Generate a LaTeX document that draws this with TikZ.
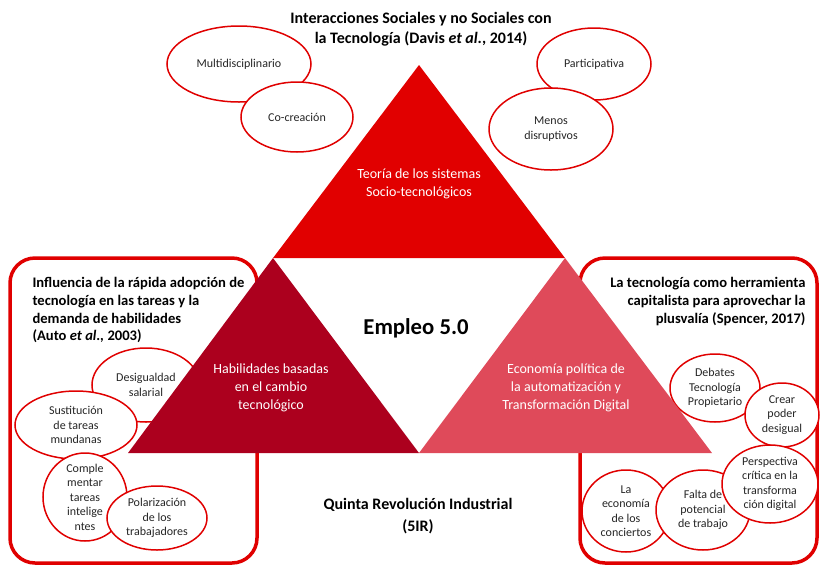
\documentclass[tikz,border=0pt]{standalone}
\usepackage{fontspec}
\setmainfont{Carlito}
\usetikzlibrary{shapes.geometric}
\definecolor{srline}{HTML}{E00000}
\definecolor{srtop}{HTML}{E10000}
\definecolor{srleft}{HTML}{AC001E}
\definecolor{srright}{HTML}{DF4A5A}
\definecolor{srtext}{HTML}{262626}

\begin{document}
\begin{tikzpicture}[x=1pt, y=-1pt, every node/.style={font=\fontsize{12}{14.5}\selectfont, text=srtext},
    idea/.style={ellipse, draw=srline, fill=white, line width=1.5pt, inner sep=0pt},
    tag/.style={align=center, font=\fontsize{12}{14.5}\selectfont, text=srtext},
    inside/.style={align=center, text=white, font=\fontsize{14}{18}\selectfont},
    heading/.style={font=\bfseries\fontsize{14.6}{17.7}\selectfont, text=black}]
            \useasboundingbox (0,0) rectangle (820,566);

            % Side frames
            \draw[srline, line width=3.5pt, rounded corners=25pt] (10,258) rectangle (257,563);
            \draw[srline, line width=3.5pt, rounded corners=25pt] (580,258) rectangle (817,563);

            % Top ideas
            \node[idea, minimum width=144pt, minimum height=76pt, label={[tag]center:Multidisciplinario}] (multi) at (239,64) {};
            \node[idea, minimum width=112pt, minimum height=70pt, label={[tag]center:Co-creación}] (cocrea) at (297,117) {};
            \node[idea, minimum width=114pt, minimum height=72pt, label={[tag]center:Participativa}] (partic) at (594,64) {};
            \node[idea, minimum width=124pt, minimum height=82pt, label={[tag]center:{Menos\\disruptivos}}] (menos) at (551,129) {};

            % Left ideas
            \node[idea, minimum width=108pt, minimum height=74pt, label={[tag]center:{Desigualdad\\salarial}}] (desig) at (146,385) {};
            \node[idea, minimum width=122pt, minimum height=68pt, label={[tag]center:{Sustitución\\de tareas\\mundanas}}] (sustit) at (76,425) {};
            \node[idea, minimum width=84pt, minimum height=88pt, label={[tag]center:{Comple\\mentar\\tareas\\intelige\\ntes}}] (comple) at (85,497) {};
            \node[idea, minimum width=100pt, minimum height=64pt, label={[tag]center:{Polarización\\de los\\trabajadores}}] (polar) at (157,518) {};

            % Right ideas
            \node[idea, minimum width=90pt, minimum height=68pt, label={[tag]center:{Debates\\Tecnología\\Propietario}}] (debates) at (715,388) {};
            \node[idea, minimum width=74pt, minimum height=64pt, label={[tag]center:{Crear\\poder\\desigual}}] (crear) at (782,415) {};
            \node[idea, minimum width=88pt, minimum height=82pt, label={[tag]center:{La\\economía\\de los\\conciertos}}] (concierto) at (626,511) {};
            \node[idea, minimum width=94pt, minimum height=80pt, label={[tag]center:{Falta de\\potencial\\de trabajo}}] (falta) at (703,510) {};
            \node[idea, minimum width=96pt, minimum height=78pt, label={[tag]center:{Perspectiva\\crítica en la\\transforma\\ción digital}}] (perspec) at (770,484) {};

            % Triangles
            \coordinate (apex) at (419,65);
            \coordinate (tl) at (273,258);
            \coordinate (tr) at (565,258);
            \coordinate (bl) at (128,453);
            \coordinate (bm) at (419,453);
            \coordinate (br) at (712,453);
            \fill[srtop] (apex) -- (tr) -- (tl) -- cycle;
            \fill[srleft] (tl) -- (bm) -- (bl) -- cycle;
            \fill[srright] (tr) -- (br) -- (bm) -- cycle;

            \node[inside] (teoria) at (419,184) {Teoría de los sistemas\\Socio-tecnológicos};
            \node[inside] (habil) at (271,388) {Habilidades basadas\\en el cambio\\tecnológico};
            \node[inside] (econ) at (566,388) {Economía política de\\la automatización y\\Transformación Digital};

            % Titles
            \node[font=\bfseries\fontsize{22.7}{26}\selectfont, text=black] (empleo) at (416,328) {Empleo 5.0};
            \node[font=\bfseries\fontsize{16}{22}\selectfont, text=black, align=center] (quinta) at (418,516) {Quinta Revolución Industrial\\(5IR)};
            \node[font=\bfseries\fontsize{16}{20}\selectfont, text=black, align=center] (davis) at (421,29) {Interacciones Sociales y no Sociales con\\la Tecnología (Davis \textit{et al.}, 2014)};
            \node[heading, align=left, anchor=north west] (auto) at (29,274) {Influencia de la rápida adopción de\\tecnología en las tareas y la\\demanda de habilidades\\(Auto \textit{et al.,} 2003)};
            \node[heading, align=right, anchor=north east] (spencer) at (809,274) {La tecnología como herramienta\\capitalista para aprovechar la\\plusvalía (Spencer, 2017)};
        \end{tikzpicture}
\end{document}
